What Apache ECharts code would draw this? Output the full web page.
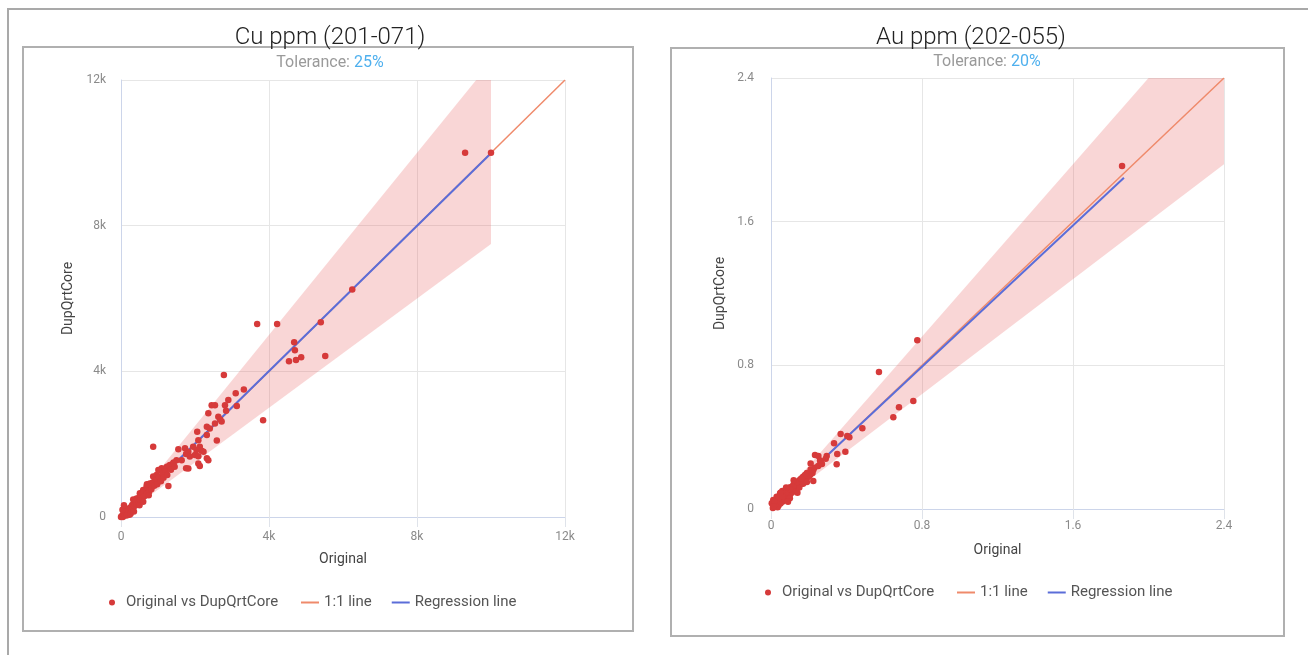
<!DOCTYPE html>
<html lang="en">
<head>
    <meta charset="UTF-8">
    <title>Original vs DupQrtCore</title>
    <script src="https://cdn.jsdelivr.net/npm/echarts@6/dist/echarts.min.js"></script>
    <style>
        html, body { margin: 0; padding: 0; background: #fff; }
        #chart { width: 1308px; height: 655px; }
    </style>
</head>
<body>
    <div id="chart"></div>

    <script>
        // Cu ppm (201-071): [Original, DupQrtCore]
        var cuPoints = [
            [10000, 10000], [9300, 10000], [6250, 6250], [3680, 5300], [4220, 5300], [5400, 5350],
            [4680, 4800], [4700, 4580], [4540, 4280], [4730, 4310], [4870, 4390], [5520, 4420], [3840, 2660],
            [2780, 3900], [3320, 3500], [3100, 3400], [2900, 3210], [2810, 3070], [2450, 3070], [2540, 3070],
            [3130, 3050], [2840, 2920], [2360, 2850], [2630, 2750], [2680, 2680], [2540, 2570], [2720, 2620],
            [2320, 2480], [2400, 2430], [2060, 2340], [2320, 2250], [2590, 2100], [2090, 2110], [870, 1930],
            [1550, 1860], [1730, 1890], [1820, 1790], [1950, 1930], [2040, 1840], [2130, 1930], [2180, 1820],
            [2000, 1700], [2090, 1670], [2230, 1790], [2320, 1610], [2360, 1560], [1760, 1730], [1860, 1660],
            [1640, 1560], [2090, 1470], [2130, 1400], [1760, 1340], [1820, 1330], [1500, 1560], [1410, 1470],
            [1320, 1430], [1240, 1380], [1100, 1340], [1190, 1290], [1010, 1290], [960, 1150], [870, 1110],
            [920, 1020], [1050, 1020], [780, 920], [690, 830], [1280, 850], [600, 740], [510, 650], [650, 650],
            [560, 560], [420, 510],
            [0, 0], [20, 30], [50, 0], [60, 80], [100, 50], [120, 150], [150, 100], [180, 220], [200, 150],
            [230, 60], [250, 260], [280, 200], [300, 330], [320, 250], [350, 380], [370, 300], [400, 420],
            [420, 350], [450, 480], [470, 400], [500, 550], [520, 460], [540, 600], [580, 520], [610, 680],
            [640, 580], [680, 750], [700, 650], [730, 800], [760, 700], [800, 880], [820, 760], [850, 940],
            [900, 860], [950, 1000], [980, 900], [1030, 1100], [1080, 980], [1120, 1200], [1150, 1080],
            [1200, 1250], [1250, 1150], [1300, 1400], [1350, 1300], [1420, 1500], [1450, 1380], [40, 200],
            [80, 320], [150, 40], [260, 90], [350, 150], [330, 480], [500, 320], [600, 420], [700, 900], [750, 600]
        ];
        // Au ppm (202-055): [Original, DupQrtCore]
        var auPoints = [
            [1.86, 1.91], [0.775, 0.94], [0.572, 0.763], [0.754, 0.601], [0.678, 0.566], [0.648, 0.511],
            [0.484, 0.449], [0.369, 0.418], [0.404, 0.406], [0.415, 0.399], [0.334, 0.366], [0.394, 0.319],
            [0.351, 0.306], [0.348, 0.249], [0.295, 0.295], [0.233, 0.301], [0.251, 0.295], [0.21, 0.254],
            [0.263, 0.26], [0.224, 0.217], [0.224, 0.156], [0.207, 0.189], [0.189, 0.176], [0.171, 0.161],
            [0.154, 0.152], [0.136, 0.143], [0.118, 0.134], [0.101, 0.121], [0.083, 0.11], [0.065, 0.096],
            [0.048, 0.087], [0.03, 0.068], [0.012, 0.05], [0.004, 0.032],
            [0.02, 0.02], [0.01, 0.005], [0.03, 0.03], [0.04, 0.02], [0.05, 0.06], [0.06, 0.04], [0.07, 0.08],
            [0.08, 0.06], [0.09, 0.1], [0.1, 0.08], [0.11, 0.12], [0.12, 0.1], [0.13, 0.14], [0.14, 0.12],
            [0.15, 0.16], [0.16, 0.14], [0.17, 0.18], [0.18, 0.16], [0.19, 0.2], [0.2, 0.18], [0.21, 0.22],
            [0.22, 0.2], [0.23, 0.23], [0.25, 0.24], [0.26, 0.27], [0.27, 0.25], [0.29, 0.28], [0.03, 0.05],
            [0.05, 0.03], [0.07, 0.05], [0.09, 0.07], [0.11, 0.09], [0.13, 0.11], [0.15, 0.12], [0.17, 0.14],
            [0.19, 0.15], [0.12, 0.13], [0.08, 0.09], [0.04, 0.06], [0.02, 0.04], [0.06, 0.07], [0.1, 0.11],
            [0.14, 0.15], [0.18, 0.19], [0.16, 0.17], [0.035, 0.01], [0.015, 0.015],
            [0.06, 0.1], [0.1, 0.06], [0.14, 0.09], [0.08, 0.12], [0.12, 0.16], [0.05, 0.09], [0.09, 0.04]
        ];

        // tolerance bands (lower / upper edge) and reference lines
        var cuBandX = [0, 10000];
        var cuBandLow = [0, 7500];
        var cuBandHigh = [0, 12500];
        var cuOneToOne = [[0, 0], [12000, 12000]];
        var cuRegression = [[0, 20], [10000, 9990]];

        var auBandX = [0, 2.4];
        var auBandLow = [0, 1.92];
        var auBandHigh = [0, 2.88];
        var auOneToOne = [[0, 0], [2.4, 2.4]];
        var auRegression = [[0, 0.005], [1.87, 1.845]];

        var cuTicks = [0, 4000, 8000, 12000];
        var auTicks = [0, 0.8, 1.6, 2.4];

        var red = '#d63a3a', orange = '#ef8a6b', blue = '#5b6dd8', pink = 'rgba(232,96,96,0.26)';

        function kFmt(v) { return v === 0 ? '0' : (v / 1000) + 'k'; }
        function auFmt(v) { return v === 0 ? '0' : String(v); }

        function axis(idx, ticks, fmt, isX, margin, gap) {
            return {
                gridIndex: idx,
                type: 'value',
                min: ticks[0],
                max: ticks[ticks.length - 1],
                interval: ticks[1] - ticks[0],
                name: isX ? 'Original' : 'DupQrtCore',
                nameLocation: 'middle',
                nameGap: gap,
                nameTextStyle: { color: '#444', fontSize: 14 },
                axisLine: { show: true, lineStyle: { color: '#ccd5ea', width: 1 } },
                axisTick: { show: isX, length: 10, lineStyle: { color: '#dfe3ea' } },
                axisLabel: { color: '#8a8a8a', fontSize: 12, margin: margin, formatter: fmt },
                splitLine: { show: true, lineStyle: { color: '#e6e6e6' } }
            };
        }

        // band polygon: along the upper edge, back along the lower edge
        function bandSeries(idx, xs, lo, hi) {
            return {
                type: 'custom',
                xAxisIndex: idx, yAxisIndex: idx,
                data: [[0]],
                clip: true,
                silent: true,
                z: 1,
                renderItem: function (params, api) {
                    var pts = [];
                    for (var i = 0; i < xs.length; i++) pts.push(api.coord([xs[i], hi[i]]));
                    for (var j = xs.length - 1; j >= 0; j--) pts.push(api.coord([xs[j], lo[j]]));
                    return { type: 'polygon', shape: { points: pts }, style: { fill: pink } };
                }
            };
        }

        function lineSeries(idx, name, data, color, width, z) {
            return {
                name: name,
                type: 'line',
                xAxisIndex: idx, yAxisIndex: idx,
                data: data,
                symbol: 'none',
                lineStyle: { color: color, width: width },
                itemStyle: { color: color },
                z: z
            };
        }

        function scatterSeries(idx, data) {
            return {
                name: 'Original vs DupQrtCore',
                type: 'scatter',
                xAxisIndex: idx, yAxisIndex: idx,
                data: data,
                symbolSize: 6.5,
                itemStyle: { color: red, opacity: 1 },
                z: 5
            };
        }

        function legends(left, top) {
            var text = { color: '#555', fontSize: 15 };
            return [{
                left: left, top: top,
                itemWidth: 18, itemHeight: 6,
                textStyle: text,
                data: ['Original vs DupQrtCore']
            }, {
                left: left + 192, top: top,
                itemWidth: 18, itemHeight: 2, itemGap: 20,
                textStyle: text,
                data: [{ name: '1:1 line', icon: 'rect' }, { name: 'Regression line', icon: 'rect' }]
            }];
        }

        function title(x, y, text) {
            return {
                type: 'text', x: x, y: y, z: 10,
                style: { text: text, fill: '#222', font: '300 24px Roboto', align: 'center', verticalAlign: 'middle' }
            };
        }
        function tolerance(x, y, pct) {
            return {
                type: 'text', x: x, y: y, z: 10,
                style: {
                    text: '{a|Tolerance: }{b|' + pct + '}',
                    align: 'center', verticalAlign: 'middle',
                    rich: {
                        a: { fill: '#9a9a9a', font: '16px Roboto' },
                        b: { fill: '#4fb0ee', font: '16px Roboto' }
                    }
                }
            };
        }

        var chart = echarts.init(document.getElementById('chart'));

        var option = {
            animation: false,
            textStyle: { fontFamily: 'Roboto' },
            graphic: [
                { type: 'polyline', shape: { points: [[8, 655], [8, 9], [1308, 9]] }, style: { stroke: '#a9a9a9', lineWidth: 2, fill: null } },
                { type: 'rect', shape: { x: 23, y: 47, width: 610, height: 584 }, style: { stroke: '#b0b0b0', lineWidth: 2, fill: null } },
                { type: 'rect', shape: { x: 671, y: 48, width: 613, height: 588 }, style: { stroke: '#b0b0b0', lineWidth: 2, fill: null } },
                title(330, 38, 'Cu ppm (201-071)'),
                tolerance(330, 63, '25%'),
                title(971, 38, 'Au ppm (202-055)'),
                tolerance(987, 62, '20%')
            ],
            legend: legends(104, 590).concat(legends(760, 580)),
            grid: [
                { left: 121, top: 80, width: 444, height: 437 },
                { left: 771, top: 78, width: 453, height: 431 }
            ],
            xAxis: [
                axis(0, cuTicks, kFmt, true, 14, 35),
                axis(1, auTicks, auFmt, true, 11, 34)
            ],
            yAxis: [
                axis(0, cuTicks, kFmt, false, 15, 46),
                axis(1, auTicks, auFmt, false, 17, 44)
            ],
            series: [
                bandSeries(0, cuBandX, cuBandLow, cuBandHigh),
                lineSeries(0, '1:1 line', cuOneToOne, orange, 1.5, 2),
                lineSeries(0, 'Regression line', cuRegression, blue, 2, 3),
                scatterSeries(0, cuPoints),
                bandSeries(1, auBandX, auBandLow, auBandHigh),
                lineSeries(1, '1:1 line', auOneToOne, orange, 1.5, 2),
                lineSeries(1, 'Regression line', auRegression, blue, 2, 3),
                scatterSeries(1, auPoints)
            ]
        };

        chart.setOption(option);
    </script>
</body>
</html>
